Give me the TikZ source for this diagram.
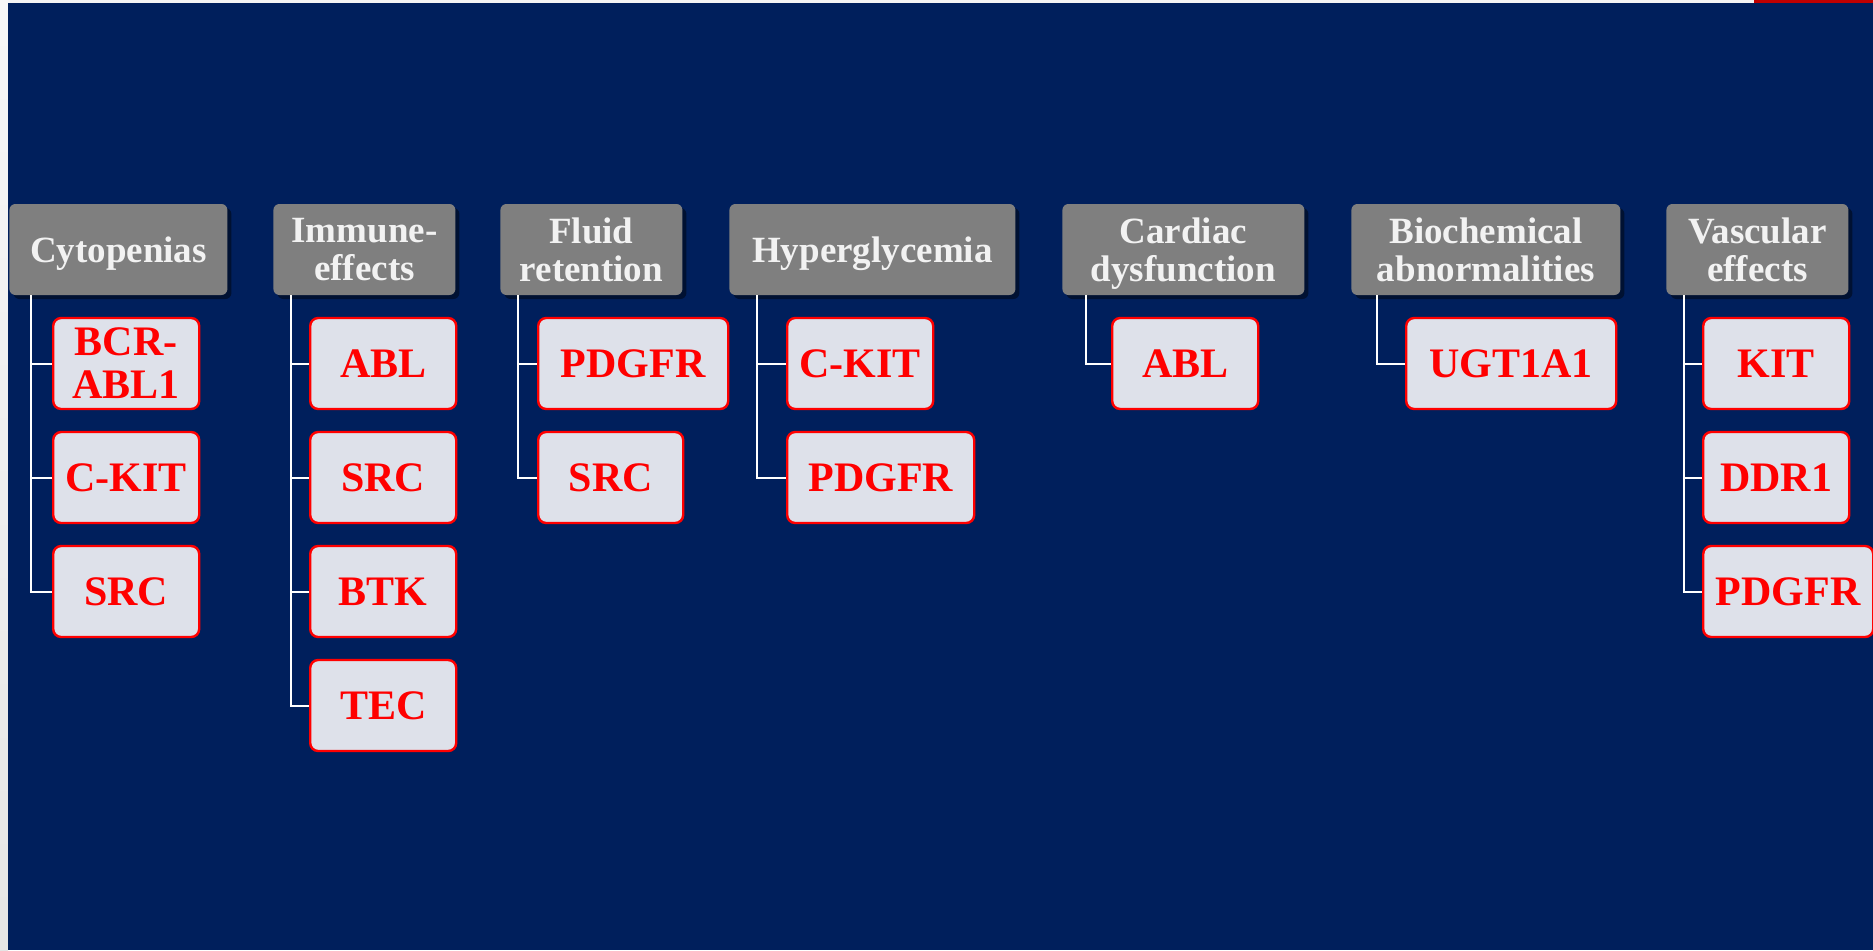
\documentclass[tikz,border=0pt]{standalone}
\usepackage{fontspec}
\setmainfont{Liberation Serif}
\usetikzlibrary{shadows,calc}
\definecolor{navy}{HTML}{001F5C}
\definecolor{hdrgray}{HTML}{7F7F7F}
\definecolor{boxfill}{HTML}{DEE1EA}
\definecolor{topred}{HTML}{C00000}
\definecolor{edgegray}{HTML}{F4F4F4}
% set a line without its descender depth, so it centres on the caps
\newcommand{\nodepth}[1]{\raisebox{0pt}[\height][0pt]{#1}}
\tikzset{
  hdr/.style={anchor=west, fill=hdrgray, rounded corners=3pt, minimum height=45.5pt,
    inner sep=0pt, align=center, text=white!95!black,
    font=\fontsize{18.5}{19}\selectfont\bfseries,
    drop shadow={shadow xshift=2pt, shadow yshift=-2pt, opacity=0.45, fill=black}},
  leaf/.style={anchor=west, fill=boxfill, draw=red, line width=1.2pt, rounded corners=4pt,
    minimum height=45.5pt, inner sep=0pt, align=center, text=red,
    font=\fontsize{21}{21.5}\selectfont\bfseries},
  conn/.style={draw=white, line width=1pt},
}
\begin{document}
\begin{tikzpicture}[x=0.5pt,y=-0.5pt]
% page frame and backdrop
\useasboundingbox (0,0) rectangle (1873,950);
\fill[edgegray] (0,0) rectangle (1873,950);
\shade[top color=white!97!black, bottom color=white!90!black] (0,0) rectangle (8,950);
\fill[topred] (1754,0) rectangle (1873,3);
\fill[navy] (8,3) rectangle (1873,950);

% category headers
\node[hdr, minimum width=109pt]   (h1) at (9,249.5)    {\nodepth{Cytopenias}};
\node[hdr, minimum width=91pt]    (h2) at (273,249.5)  {Immune-\\effects};
\node[hdr, minimum width=91pt]    (h3) at (500,249.5)  {Fluid\\retention};
\node[hdr, minimum width=143pt]   (h4) at (729,249.5)  {\nodepth{Hyperglycemia}};
\node[hdr, minimum width=121pt]   (h5) at (1062,249.5) {Cardiac\\\nodepth{dysfunction}};
\node[hdr, minimum width=134.5pt] (h6) at (1351,249.5) {Biochemical\\abnormalities};
\node[hdr, minimum width=91pt]    (h7) at (1666,249.5) {Vascular\\effects};

% target boxes
\node[leaf, minimum width=73pt] (c11) at (52,363.5) {BCR-\\ABL1};
\node[leaf, minimum width=73pt] (c12) at (52,477.5) {C-KIT};
\node[leaf, minimum width=73pt] (c13) at (52,591.5) {SRC};

\node[leaf, minimum width=73pt] (c21) at (309,363.5) {ABL};
\node[leaf, minimum width=73pt] (c22) at (309,477.5) {SRC};
\node[leaf, minimum width=73pt] (c23) at (309,591.5) {BTK};
\node[leaf, minimum width=73pt] (c24) at (309,705.5) {TEC};

\node[leaf, minimum width=95pt]   (c31) at (537,363.5) {PDGFR};
\node[leaf, minimum width=72.5pt] (c32) at (537,477.5) {SRC};

\node[leaf, minimum width=73pt]   (c41) at (786,363.5) {C-KIT};
\node[leaf, minimum width=93.5pt] (c42) at (786,477.5) {PDGFR};

\node[leaf, minimum width=73pt] (c51) at (1111,363.5) {ABL};

\node[leaf, minimum width=105pt] (c61) at (1405,363.5) {UGT1A1};

\node[leaf, minimum width=73pt] (c71) at (1702,363.5) {KIT};
\node[leaf, minimum width=73pt] (c72) at (1702,477.5) {DDR1};
\node[leaf, minimum width=85pt] (c73) at (1702,591.5) {PDGFR};

% tree connectors: trunk from header, branch to each box
\foreach \c in {c11,c12,c13} \draw[conn] ([xshift=11pt]h1.south west) |- (\c.west);
\foreach \c in {c21,c22,c23,c24} \draw[conn] ([xshift=9pt]h2.south west) |- (\c.west);
\foreach \c in {c31,c32} \draw[conn] ([xshift=9pt]h3.south west) |- (\c.west);
\foreach \c in {c41,c42} \draw[conn] ([xshift=14pt]h4.south west) |- (\c.west);
\draw[conn] ([xshift=12pt]h5.south west) |- (c51.west);
\draw[conn] ([xshift=13pt]h6.south west) |- (c61.west);
\foreach \c in {c71,c72,c73} \draw[conn] ([xshift=9pt]h7.south west) |- (\c.west);
\end{tikzpicture}
\end{document}
